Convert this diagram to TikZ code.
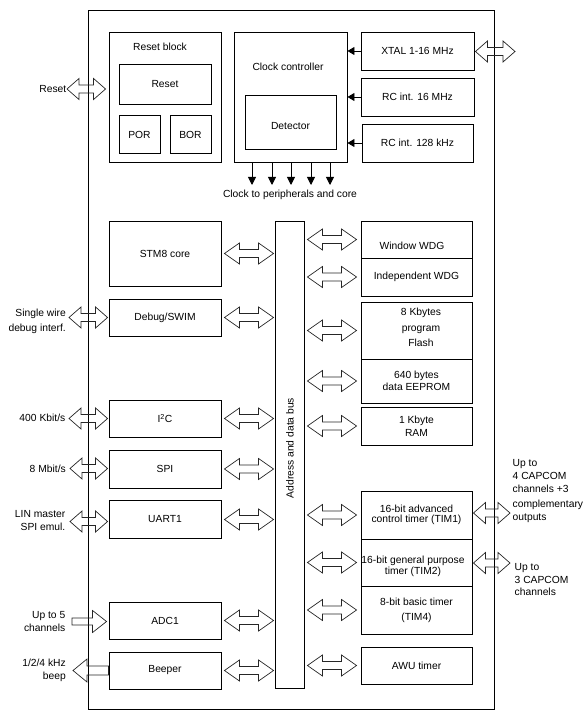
\documentclass[tikz,border=0pt]{standalone}
\usepackage{fontspec}
\setmainfont{Liberation Sans}
\usetikzlibrary{arrows.meta,calc}
\tikzset{
  box/.style={draw, line width=0.9pt, inner sep=0pt, align=center, font=\fontsize{10.3}{12}\selectfont},
  txt/.style={inner sep=0pt, font=\fontsize{10.3}{#1}\selectfont},
  txt/.default=12,
  hollow/.style={draw=black!85, line width=0.7pt, line join=miter},
  clkarr/.style={line width=0.9pt, -{Triangle[length=8pt,width=8pt]}},
  clkin/.style={line width=0.9pt, -{Triangle[length=7pt,width=8pt]}},
}
% double hollow arrow: [head length]{left end}{right end}{point giving y}
\newcommand\darrow[4][15pt]{%
  \draw[hollow] let \p1=#2, \p2=#3, \p3=#4 in
    (\x1,\y3) -- (\x1+#1,\y3+10.5pt) -- (\x1+#1,\y3+4pt) -- (\x2-#1,\y3+4pt)
    -- (\x2-#1,\y3+10.5pt) -- (\x2,\y3) -- (\x2-#1,\y3-10.5pt) -- (\x2-#1,\y3-4pt)
    -- (\x1+#1,\y3-4pt) -- (\x1+#1,\y3-10.5pt) -- cycle;}
% single hollow arrow pointing right
\newcommand\sarrow[2]{%
  \draw[hollow] let \p1=#1, \p2=#2 in
    (\x1,\y1+3.5pt) -- (\x2-14pt,\y1+3.5pt) -- (\x2-14pt,\y1+11pt) -- (\x2,\y1)
    -- (\x2-14pt,\y1-11pt) -- (\x2-14pt,\y1-3.5pt) -- (\x1,\y1-3.5pt) -- cycle;}
% single hollow arrow pointing left
\newcommand\larrow[2]{%
  \draw[hollow] let \p1=#1, \p2=#2 in
    (\x1,\y1) -- (\x1+14pt,\y1+11.5pt) -- (\x1+14pt,\y1+4.5pt) -- (\x2,\y1+4.5pt)
    -- (\x2,\y1-4.5pt) -- (\x1+14pt,\y1-4.5pt) -- (\x1+14pt,\y1-11.5pt) -- cycle;}
\begin{document}
\begin{tikzpicture}[x=1pt,y=-1pt]
\useasboundingbox (0,0) rectangle (588,714);
\node[box, minimum width=406, minimum height=699] (chip) at (291,359.5) {};

% reset block
\node[box, minimum width=112, minimum height=130] (resetblk) at (165,97) {};
\node[txt] (resetblkT) at (160,47) {Reset block};
\node[box, minimum width=92, minimum height=40] (reset) at (165,84) {Reset};
\node[box, minimum width=41, minimum height=38] (por) at (139.5,134.5) {POR};
\node[box, minimum width=41, minimum height=38] (bor) at (190.5,134.5) {BOR};

% clock controller
\node[box, minimum width=113, minimum height=130] (clk) at (290.5,97) {};
\node[txt] (clkT) at (288,66.5) {Clock controller};
\node[box, minimum width=91, minimum height=54] (det) at (290.5,122) {};
\node[txt] (detT) at (290.5,126) {Detector};

\node[box, minimum width=113, minimum height=38] (xtal) at (417.5,51) {XTAL 1-16 MHz};
\node[box, minimum width=113, minimum height=38] (rc16) at (417.5,97) {RC int. 16 MHz};
\node[box, minimum width=111, minimum height=38] (rc128) at (417.5,143) {RC int. 128 kHz};

\draw[clkin] (xtal.west) -- (xtal.west -| clk.east);
\draw[clkin] (rc16.west) -- (rc16.west -| clk.east);
\draw[clkin] (rc128.west) -- (rc128.west -| clk.east);

\foreach \i/\xx in {1/252,2/272,3/291,4/311,5/330}{
  \coordinate (ck\i) at (\xx,185);
  \draw[clkarr] (ck\i |- clk.south) -- (ck\i);
}
\node[txt] (clkout) at (290,195) {Clock to peripherals and core};

% left column
\node[box, minimum width=112, minimum height=65] (core) at (165,253.5) {STM8 core};
\node[box, minimum width=112, minimum height=37] (swim) at (165,317.5) {Debug/SWIM};
\node[box, minimum width=112, minimum height=37] (i2c) at (165,418.5) {I\textsuperscript{2}C};
\node[box, minimum width=112, minimum height=38] (spi) at (165,469) {SPI};
\node[box, minimum width=112, minimum height=38] (uart) at (165,519.5) {UART1};
\node[box, minimum width=112, minimum height=37] (adc) at (165,620.5) {ADC1};
\node[box, minimum width=112, minimum height=37] (beep) at (165,670.5) {Beeper};

% bus
\node[box, minimum width=29, minimum height=467] (bus) at (289.5,454.5) {};
\node[txt, rotate=90] (busT) at (290,448) {Address and data bus};

% right column
\node[box, minimum width=111, minimum height=37] (wwdg) at (416.5,239.5) {};
\node[txt] (wwdgT) at (412,245.5) {Window WDG};
\node[box, minimum width=111, minimum height=38] (iwdg) at (416.5,277) {Independent WDG};
\node[box, minimum width=111, minimum height=57] (flash) at (416.5,330.5) {};
\node[txt=15.5, align=center] (flashT) at (421,327.5) {8 Kbytes\\program\\Flash};
\node[box, minimum width=111, minimum height=44, font=\fontsize{10.3}{11.5}\selectfont] (eeprom) at (416.5,381) {640 bytes\\data EEPROM};
\node[box, minimum width=111, minimum height=38, font=\fontsize{10.3}{13}\selectfont] (ram) at (416.5,426) {1 Kbyte\\RAM};
\node[box, minimum width=111, minimum height=48, font=\fontsize{10.3}{10.5}\selectfont] (tim1) at (416.5,515) {16-bit advanced\\control timer (TIM1)};
\node[box, minimum width=111, minimum height=47] (tim2) at (416.5,562.5) {};
\node[txt=10.5, align=center] (tim2T) at (413,566.5) {16-bit general purpose\\timer (TIM2)};
\node[box, minimum width=111, minimum height=48, font=\fontsize{10.3}{14.7}\selectfont] (tim4) at (416.5,610) {8-bit basic timer\\(TIM4)};
\node[box, minimum width=111, minimum height=37] (awu) at (416.5,665.5) {AWU timer};

% outside labels, left
\node[txt, anchor=east] (rstL) at (66.5,89) {Reset};
\node[txt=15, anchor=east, align=right] (swL) at (66,321) {Single wire\\debug interf.};
\node[txt, anchor=east] (i2cL) at (65.5,418) {400 Kbit/s};
\node[txt, anchor=east] (spiL) at (66,469) {8 Mbit/s};
\node[txt=13, anchor=east, align=right] (uartL) at (65.5,520.5) {LIN master\\SPI emul.};
\node[txt=13, anchor=east, align=right] (adcL) at (65.5,621) {Up to 5\\channels};
\node[txt=13, anchor=east, align=right] (beepL) at (66,670.5) {1/2/4 kHz\\beep};

% outside labels, right
\node[txt=13, anchor=west, align=left] (tim1L) at (512.5,491) {Up to\\4 CAPCOM\\channels +3\\[2pt]complementary\\outputs};
\node[txt=12.5, anchor=west, align=left] (tim2L) at (514.5,580) {Up to\\3 CAPCOM\\channels};

% external coordinates
\coordinate (rstE) at (67,89);
\coordinate (swE) at (69,317.5);
\coordinate (i2cE) at (69,418.5);
\coordinate (spiE) at (70,468.5);
\coordinate (uartE) at (70,521.5);
\coordinate (adcE) at (72,621.5);
\coordinate (beepE) at (73,670.5);
\coordinate (xtalE) at (515,51.5);
\coordinate (tim1E) at (510,513);
\coordinate (tim2E) at (510,563);

% external arrows
\darrow[12pt]{(rstE)}{([xshift=-3pt]resetblk.west)}{(rstE)}
\darrow[12pt]{(swE)}{([xshift=-1pt]swim.west)}{(swE)}
\darrow[12pt]{(i2cE)}{([xshift=-1pt]i2c.west)}{(i2cE)}
\darrow[12pt]{(spiE)}{([xshift=-1pt]spi.west)}{(spiE)}
\darrow[12pt]{(uartE)}{([xshift=-1pt]uart.west)}{(uartE)}
\sarrow{(adcE)}{([xshift=-2pt]adc.west)}
\larrow{(beepE)}{(beep.west)}
\darrow[12pt]{([xshift=1pt]xtal.east)}{(xtalE)}{(xtalE)}
\darrow[12pt]{([xshift=1pt]tim1.east)}{(tim1E)}{(tim1E)}
\darrow[12pt]{([xshift=1pt]tim2.east)}{(tim2E)}{(tim2E)}

% bus arrows
\foreach \nd in {core,swim,i2c,spi,uart,adc,beep}{
  \darrow{([xshift=3pt]\nd.east)}{([xshift=-1pt]bus.west)}{(\nd)}
}
\foreach \nd in {wwdg,iwdg,flash,eeprom,ram,tim1,tim2,tim4,awu}{
  \darrow{([xshift=3pt]bus.east)}{([xshift=-4pt]\nd.west)}{(\nd)}
}
\end{tikzpicture}
\end{document}
